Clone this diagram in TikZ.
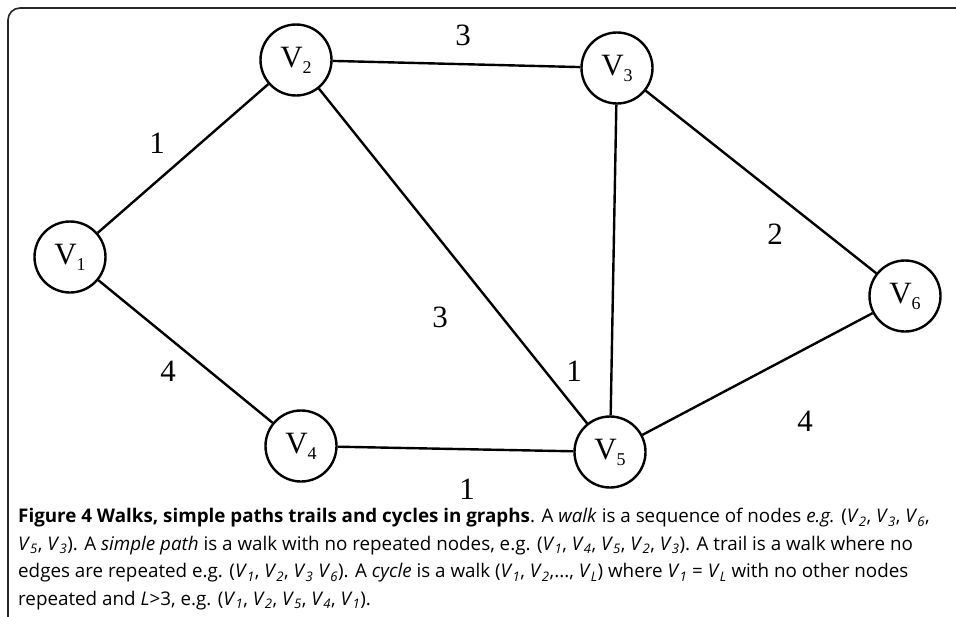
\documentclass[tikz,border=0pt]{standalone}
\usepackage{fontspec}
\setmainfont{Liberation Serif}
\newfontfamily\capfont{Open Sans}
\newcommand{\vv}[1]{\textit{V}\textsubscript{\textit{#1}}}
\newcommand{\gv}[1]{V\raisebox{-6pt}{\fontsize{18}{18}\selectfont #1}}
\begin{document}
\begin{tikzpicture}[x=1pt,y=-1pt,
  vertex/.style={circle,draw,line width=2.4pt,minimum size=71pt,inner sep=0pt,font=\fontsize{31}{31}\selectfont},
  edge/.style={line width=2.4pt},
  wlabel/.style={font=\fontsize{31}{31}\selectfont,inner sep=0pt},
  frame/.style={draw=black!85,line width=1.6pt,rounded corners=12pt},
  caption/.style={anchor=north west,align=left,inner sep=0pt,font=\capfont\fontsize{18.8}{27.5}\selectfont}]
\useasboundingbox (0,0) rectangle (956,616);
\draw[frame] (8,630) -- (8,8) -- (970,8);
\node[vertex] (v1) at (70,257) {\gv{1}};
\node[vertex] (v2) at (296,60) {\gv{2}};
\node[vertex] (v3) at (617,68) {\gv{3}};
\node[vertex] (v4) at (301,446) {\gv{4}};
\node[vertex] (v5) at (610,452) {\gv{5}};
\node[vertex] (v6) at (905,296) {\gv{6}};
\draw[edge] (v1) -- (v2);
\draw[edge] (v1) -- (v4);
\draw[edge] (v2) -- (v3);
\draw[edge] (v2) -- (v5);
\draw[edge] (v3) -- (v5);
\draw[edge] (v3) -- (v6);
\draw[edge] (v4) -- (v5);
\draw[edge] (v5) -- (v6);
\node[wlabel] (l12) at (157,143) {1};
\node[wlabel] (l23) at (463,35) {3};
\node[wlabel] (l25) at (440,317) {3};
\node[wlabel] (l35) at (574,371) {1};
\node[wlabel] (l36) at (775,234) {2};
\node[wlabel] (l14) at (168,371) {4};
\node[wlabel] (l45) at (467,489) {1};
\node[wlabel] (l56) at (805,421) {4};
\node[caption] (cap) at (18,508) {%
\textbf{Figure 4 Walks, simple paths trails and cycles in graphs}. A \textit{walk} is a sequence of nodes \textit{e.g.} (\vv{2}, \vv{3}, \vv{6},\\
\vv{5}, \vv{3}). A \textit{simple path} is a walk with no repeated nodes, e.g. (\vv{1}, \vv{4}, \vv{5}, \vv{2}, \vv{3}). A trail is a walk where no\\
edges are repeated e.g. (\vv{1}, \vv{2}, \vv{3} \vv{6}). A \textit{cycle} is a walk (\vv{1}, \vv{2},..., \vv{L}) where \vv{1} = \vv{L} with no other nodes\\
repeated and \textit{L}>3, e.g. (\vv{1}, \vv{2}, \vv{5}, \vv{4}, \vv{1}).};
\end{tikzpicture}
\end{document}
